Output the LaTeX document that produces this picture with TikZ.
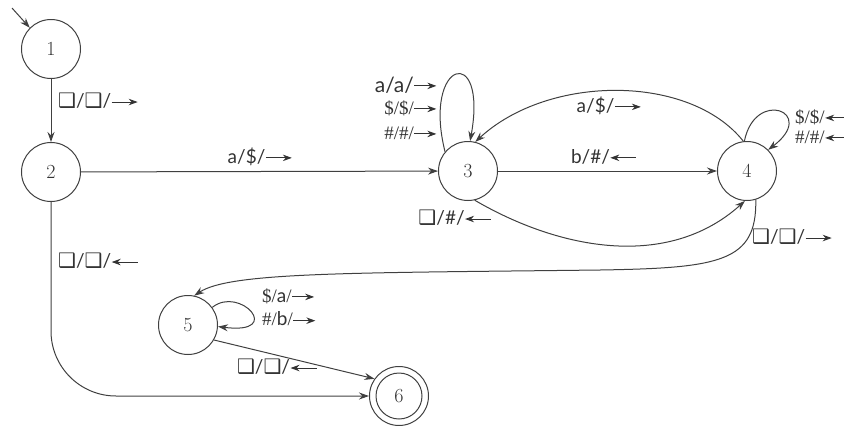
\documentclass[tikz,border=0pt]{standalone}
\usepackage{fontspec}
\newfontfamily\lato{Lato}
\newfontfamily\dejavu{DejaVu Sans}
\newfontfamily\serif{Liberation Serif}
\usetikzlibrary{arrows.meta}
\newcommand\blk{{\dejavu\fontsize{20}{22}\selectfont ❑}}
\newcommand\rarr[1][26]{\tikz[baseline=-0.6ex]\draw[draw=black!80,line width=0.9pt,-{Stealth[length=9pt,width=6.5pt]}] (0pt,0pt)--(#1pt,0pt);}
\newcommand\larr[1][26]{\tikz[baseline=-0.6ex]\draw[draw=black!80,line width=0.9pt,{Stealth[length=9pt,width=6.5pt]}-] (0pt,0pt)--(#1pt,0pt);}
\tikzset{
  state/.style={circle, draw=black!75, line width=1pt, minimum size=59pt, inner sep=0pt,
    font=\fontsize{20}{22}\selectfont, text=black!80},
  edge/.style={draw=black!75, line width=1pt, -{Stealth[length=10pt,width=7pt]}},
  lbl/.style={font=\lato\fontsize{19}{21}\selectfont, text=black!80, inner sep=0pt},
  slbl/.style={font=\serif\fontsize{19}{21}\selectfont, text=black!80, inner sep=0pt}
}
\begin{document}
\begin{tikzpicture}[x=1pt,y=-1pt]
\useasboundingbox (0,0) rectangle (844,426);
\node[state] (n1) at (51,49) {1};
\node[state] (n2) at (51,172) {2};
\node[state] (n3) at (468,171) {3};
\node[state] (n4) at (747,171) {4};
\node[state] (n5) at (188,325) {5};
\node[state] (n6) at (399,396) {6};
\draw[draw=black!75, line width=1pt] (n6.center) circle[radius=23pt];
\coordinate (init) at (12,8);
\draw[edge] (init) -- (n1.135);
\draw[edge] (n1) -- (n2);
\draw[edge] (n2) -- (n3);
\draw[edge] (n3) -- (n4);
\draw[edge] (n4.97) .. controls (690,74) and (549,74) .. (n3.76);
\draw[edge] (n3.-77) .. controls (560,250) and (668,270) .. (n4.-94);
\draw[edge] (n4.-73) .. controls (757,262) and (720,268) .. (600,270) .. controls (350,273) and (230,272) .. (n5.78);
\draw[edge] (n3.140) .. controls (422,60) and (488,42) .. (n3.86);
\draw[edge] (n4.95) .. controls (755,88) and (818,112) .. (n4.45);
\draw[edge] (n5.36) .. controls (240,285) and (285,335) .. (n5.-3);
\draw[edge] (n5.-30) -- (n6.145);
\draw[edge, rounded corners=65pt] (n2) |- (n6);
% labels
\node[lbl, anchor=west] (l12) at (58,101) {\blk/\blk/\rarr};
\node[lbl] (l23) at (260,157) {a/\$/\rarr};
\node[lbl] (l34) at (604,157) {b/\#/\larr};
\node[lbl] (l43) at (609,106) {a/\$/\rarr};
\node[lbl] (l34b) at (455,218) {\blk/\#/\larr};
\node[lbl, anchor=west] (l45) at (752,237) {\blk/\blk/\rarr};
\node[lbl, anchor=east, font=\lato\fontsize{21}{23}\selectfont] (l33a) at (437,85) {a/a/\rarr[22]};
\node[slbl, anchor=east] (l33b) at (437,108) {\$/\$/\rarr[22]};
\node[slbl, anchor=east] (l33c) at (437,133) {\#/\#/\rarr[22]};
\node[slbl, anchor=west] (l44a) at (795,117) {\$/\$/\larr[22]};
\node[slbl, anchor=west] (l44b) at (795,137) {\#/\#/\larr[22]};
\node[slbl, anchor=west] (l55a) at (262,296) {\$/{\lato a}/\rarr[22]};
\node[slbl, anchor=west] (l55b) at (262,319) {\#/{\lato b}/\rarr[22]};
\node[lbl] (l56) at (277,367) {\blk/\blk/\larr};
\node[lbl, anchor=west] (l26) at (58,261) {\blk/\blk/\larr};
\end{tikzpicture}
\end{document}
